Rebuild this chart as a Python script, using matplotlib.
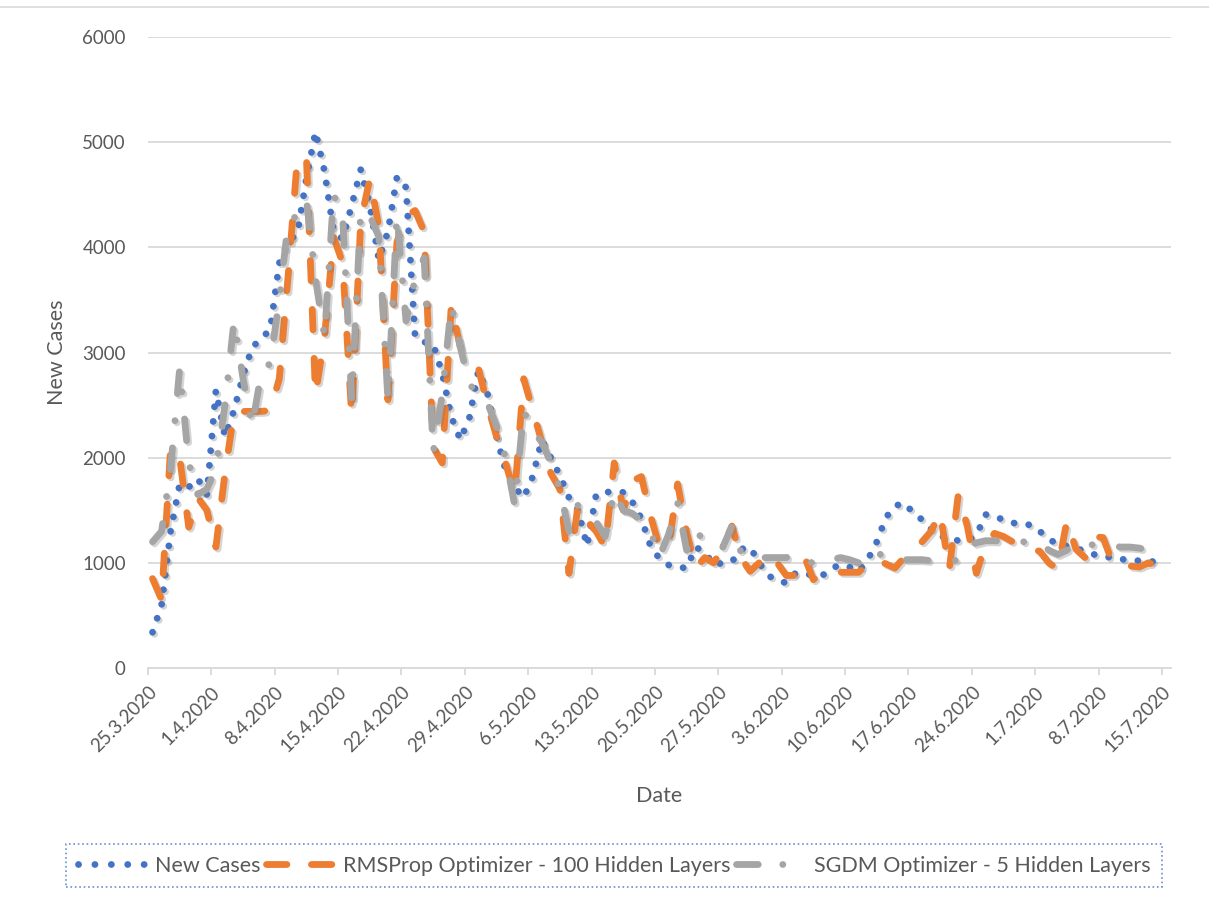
import matplotlib
matplotlib.use("Agg")
import matplotlib.pyplot as plt
import matplotlib.patheffects as pe
from matplotlib.lines import Line2D
import numpy as np
import datetime as dt

plt.rcParams['font.family'] = ['Lato', 'DejaVu Sans']

# ---------------- data ----------------
start_date = dt.date(2020, 3, 25)
n_days = 113
dates = [start_date + dt.timedelta(days=i) for i in range(n_days)]
tick_labels = ["25.3.2020", "1.4.2020", "8.4.2020", "15.4.2020", "22.4.2020",
               "29.4.2020", "6.5.2020", "13.5.2020", "20.5.2020", "27.5.2020",
               "3.6.2020", "10.6.2020", "17.6.2020", "24.6.2020", "1.7.2020",
               "8.7.2020", "15.7.2020"]

new_cases = [340, 600, 1300, 1750, 1720, 1800, 1650, 2640, 2200, 2450,
             2780, 3050, 3130, 3220, 3850, 4060, 4130, 4660, 5100, 4720,
             4150, 4080, 4400, 4740, 4400, 3880, 4150, 4670, 4570, 3150,
             3100, 3080, 2800, 2390, 2170, 2380, 2830, 2610, 2200, 1880,
             1720, 1620, 1820, 2170, 2000, 1830, 1620, 1500, 1160, 1650,
             1670, 1680, 1670, 1580, 1420, 1160, 1040, 980, 960, 950,
             1150, 1100, 980, 1000, 1010, 1130, 1150, 1000, 880, 830,
             810, 900, 900, 880, 880, 950, 980, 960, 920, 1030,
             1200, 1430, 1540, 1570, 1480, 1410, 1320, 1250, 1240, 1210,
             1210, 1260, 1460, 1440, 1410, 1380, 1370, 1360, 1300, 1230,
             1170, 1160, 1140, 1110, 1080, 1060, 1050, 1035, 1025, 1020,
             1015, 1010, 1000]

rmsprop_100 = [850, 650, 2100, 2000, 1340, 1620, 1500, 1150, 1850, 2430,
               2440, 2440, 2440, 2450, 2750, 3750, 4850, 4850, 2600, 3150,
               4100, 3850, 2400, 4250, 4650, 4200, 2550, 4050, 4300, 4350,
               4150, 2100, 1950, 3450, 3050, 2950, 2850, 2500, 2200, 1950,
               1650, 2750, 2450, 2150, 1850, 1700, 900, 1550, 1400, 1300,
               1150, 1950, 1500, 1780, 1820, 1450, 1150, 1150, 1750, 1290,
               950, 1050, 1000, 1150, 1350, 1050, 920, 1000, 1090, 1000,
               880, 880, 1060, 840, 900, 910, 910, 910, 910, 1000,
               1030, 990, 950, 1050, 1120, 1200, 1300, 1480, 930, 1650,
               1350, 900, 1180, 1280, 1250, 1200, 1150, 1130, 1110, 1000,
               940, 1400, 1130, 1050, 1250, 1240, 1010, 990, 970, 960,
               1000, 970, 960]

sgdm_5 = [1200, 1300, 1900, 2850, 1950, 1650, 1700, 1900, 2500, 3300,
          2750, 2300, 2800, 2900, 3500, 4250, 4300, 4450, 3700, 3150,
          4500, 4300, 2550, 4350, 4300, 4100, 2550, 4300, 3300, 3700,
          3900, 2050, 2600, 3450, 3050, 2700, 2600, 2520, 2300, 2000,
          1550, 2450, 2250, 2150, 1950, 1700, 1300, 1550, 1480, 1390,
          1250, 1680, 1500, 1470, 1400, 1300, 1060, 1270, 1570, 1120,
          1310, 1200, 1150, 1150, 1350, 1100, 1050, 1050, 1050, 1050,
          1050, 1080, 1050, 990, 1000, 1030, 1050, 1030, 1000, 1000,
          1100, 1050, 1030, 1030, 1030, 1030, 1020, 1010, 1010, 1030,
          1150, 1190, 1210, 1210, 1200, 1200, 1200, 1200, 1200, 1120,
          1080, 1120, 1190, 1180, 1170, 1170, 1160, 1150, 1150, 1140,
          1120, 1130, 1130]

series_names = ["New Cases", "RMSProp Optimizer - 100 Hidden Layers",
                "SGDM Optimizer - 5 Hidden Layers"]

# ---------------- style ----------------
BLUE = "#4472C4"
ORANGE = "#ED7D31"
GRAY = "#A5A5A5"
TXT = "#595959"
GRID = "#D9D9D9"

W, H = 1209, 900
fig = plt.figure(figsize=(W / 100, H / 100), dpi=100)
ax = fig.add_axes([148 / W, 1 - 668 / H, (1171 - 148) / W, (668 - 37) / H])

x = np.arange(n_days)
shadow = [pe.SimpleLineShadow(offset=(1.5, -1.5), shadow_color="#777777", alpha=0.3),
          pe.Normal()]

lw = 4.9
blue_ls = (0, (0.01, 2.15))
orange_ls = (0, (3.0, 4.2))
gray_ls = (0, (3.2, 4.0, 0.01, 4.0))

ax.plot(x, new_cases, color=BLUE, lw=lw, linestyle=blue_ls,
        dash_capstyle="round", zorder=3, path_effects=shadow)
ax.plot(x, rmsprop_100, color=ORANGE, lw=lw, linestyle=orange_ls,
        dash_capstyle="round", dash_joinstyle="round", zorder=4,
        path_effects=shadow)
ax.plot(x, sgdm_5, color=GRAY, lw=lw, linestyle=gray_ls,
        dash_capstyle="round", dash_joinstyle="round", zorder=5,
        path_effects=shadow)

ax.set_xlim(-0.5, n_days - 0.5)
ax.set_ylim(0, 6000)
ax.set_yticks(np.arange(0, 6001, 1000))
ax.yaxis.grid(True, color=GRID, lw=1.3)
ax.set_axisbelow(True)
ax.set_xticks(np.arange(0, n_days, 7) - 0.5)
ax.set_xticklabels(tick_labels, rotation=45, ha="right", rotation_mode="anchor")

for s in ["top", "right", "left"]:
    ax.spines[s].set_visible(False)
ax.spines["bottom"].set_color(GRID)
ax.spines["bottom"].set_linewidth(1.3)
ax.tick_params(axis="y", length=0, pad=16, labelsize=13.5, labelcolor=TXT)
ax.tick_params(axis="x", length=5, width=1.3, color=GRID, pad=6,
               labelsize=13.5, labelcolor=TXT)

fig.text(57 / W, 1 - 352 / H, "New Cases", rotation=90, ha="center", va="center",
         fontsize=15.5, color=TXT)
fig.text(659 / W, 1 - 796 / H, "Date", ha="center", va="center",
         fontsize=15.5, color=TXT)

# legend
handles = [
    Line2D([], [], color=BLUE, lw=lw, linestyle=(0, (0.01, 2.4)), dash_capstyle="round"),
    Line2D([], [], color=ORANGE, lw=lw, linestyle=(0, (3.0, 3.6)), dash_capstyle="round"),
    Line2D([], [], color=GRAY, lw=lw, linestyle=(0, (3.2, 3.6, 0.01, 4.0)), dash_capstyle="round"),
]
leg = fig.legend(handles, series_names, loc="center", ncol=3,
                 bbox_to_anchor=(614 / W, 1 - 865.5 / H), fontsize=15.5,
                 frameon=True, fancybox=False, handlelength=3.1,
                 handletextpad=0.5, columnspacing=0.25, borderpad=0.55,
                 borderaxespad=0, labelcolor=TXT)
fr = leg.get_frame()
fr.set_edgecolor(BLUE)
fr.set_linestyle(":")
fr.set_linewidth(1.2)

# chart area top border
fig.add_artist(Line2D([0, 1], [1 - 7 / H, 1 - 7 / H], transform=fig.transFigure,
                      color=GRID, lw=1.2))

fig.savefig("out.png", dpi=100)
